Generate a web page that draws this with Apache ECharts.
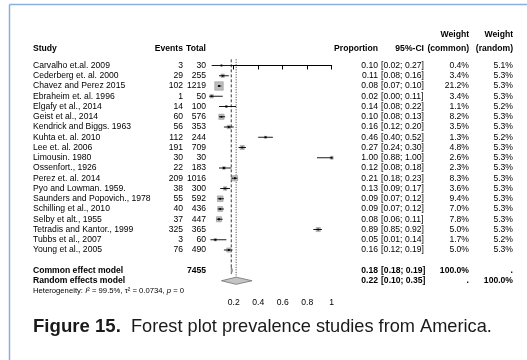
<!DOCTYPE html>
<html>
<head>
<meta charset="utf-8">
<script src="https://cdn.jsdelivr.net/npm/echarts@6/dist/echarts.min.js"></script>
<style>
  html, body { margin: 0; padding: 0; background: #ffffff; }
  #chart { width: 527px; height: 360px; }
</style>
</head>
<body>
<div id="chart"></div>
<script>
// Prevalence studies from America: per-study events, totals, proportions and weights
const studies = [
  'Carvalho et.al. 2009', 'Cederberg et. al. 2000', 'Chavez and Perez 2015',
  'Ebraheim et. al. 1996', 'Elgafy et al., 2014', 'Geist et al., 2014',
  'Kendrick and Biggs. 1963', 'Kuhta et. al. 2010', 'Lee et. al. 2006',
  'Limousin. 1980', 'Ossenfort., 1926', 'Perez et. al. 2014',
  'Pyo and Lowman. 1959.', 'Saunders and Popovich., 1978', 'Schilling et al., 2010',
  'Selby et alt., 1955', 'Tetradis and Kantor., 1999', 'Tubbs et al., 2007',
  'Young et al., 2005'
];
const events = [3, 29, 102, 1, 14, 60, 56, 112, 191, 30, 22, 209, 38, 55, 40, 37, 325, 3, 76];
const totals = [30, 255, 1219, 50, 100, 576, 353, 244, 709, 30, 183, 1016, 300, 592, 436, 447, 365, 60, 490];
const proportion = [0.10, 0.11, 0.08, 0.02, 0.14, 0.10, 0.16, 0.46, 0.27, 1.00, 0.12, 0.21, 0.13, 0.09, 0.09, 0.08, 0.89, 0.05, 0.16];
const ciLower = [0.02, 0.08, 0.07, 0.00, 0.08, 0.08, 0.12, 0.40, 0.24, 0.88, 0.08, 0.18, 0.09, 0.07, 0.07, 0.06, 0.85, 0.01, 0.12];
const ciUpper = [0.27, 0.16, 0.10, 0.11, 0.22, 0.13, 0.20, 0.52, 0.30, 1.00, 0.18, 0.23, 0.17, 0.12, 0.12, 0.11, 0.92, 0.14, 0.19];
const weightCommon = [0.4, 3.4, 21.2, 3.4, 1.1, 8.2, 3.5, 1.3, 4.8, 2.6, 2.3, 8.3, 3.6, 9.4, 7.0, 7.8, 5.0, 1.7, 5.0];
const weightRandom = [5.1, 5.3, 5.3, 5.3, 5.2, 5.3, 5.3, 5.2, 5.3, 5.3, 5.3, 5.3, 5.3, 5.3, 5.3, 5.3, 5.3, 5.2, 5.3];

// Pooled estimates
const modelNames = ['Common effect model', 'Random effects model'];
const modelEstimate = [0.18, 0.22];
const modelLower = [0.18, 0.10];
const modelUpper = [0.19, 0.35];
const modelWeightCommon = ['100.0%', '.'];
const modelWeightRandom = ['.', '100.0%'];
const totalParticipants = 7455;

const axisTicks = [0.2, 0.4, 0.6, 0.8, 1];

const FONT = '"Liberation Sans", Arial, Helvetica, sans-serif';
const FS = 8.6;
// column anchors (pixels)
const COL = { study: 33, events: 183, total: 206, prop: 378, ci: 381, ciRight: 424, wCommon: 469, wRandom: 513 };
const ROW_COMMON = studies.length + 1;
const ROW_RANDOM = studies.length + 2;
const ROW_HET = studies.length + 3;

function txt(text, x, y, align, bold, size) {
  return {
    type: 'text',
    style: {
      text: text, x: x, y: y, align: align, verticalAlign: 'middle',
      fontSize: size || FS, fontFamily: FONT, fontWeight: bold ? 'bold' : 'normal', fill: '#000'
    },
    silent: true
  };
}
function fmtCI(lo, hi) { return '[' + lo.toFixed(2) + '; ' + hi.toFixed(2) + ']'; }

const maxW = Math.max.apply(null, weightCommon);
const studyData = studies.map((s, i) => [i, proportion[i], ciLower[i], ciUpper[i], weightCommon[i], weightRandom[i], events[i], totals[i]]);
const modelData = modelNames.map((m, k) => [studies.length + 1 + k, modelEstimate[k], modelLower[k], modelUpper[k], k]);

const chart = echarts.init(document.getElementById('chart'), null, { renderer: 'canvas' });

chart.setOption({
  animation: false,
  backgroundColor: '#ffffff',
  title: {
    text: '{b|Figure 15.}  Forest plot prevalence studies from America.',
    left: 33, top: 317, padding: 0,
    textStyle: {
      fontFamily: FONT, fontSize: 18.2, fontWeight: 'normal', color: '#1a1a1a',
      rich: { b: { fontFamily: FONT, fontSize: 18.6, fontWeight: 'bold', color: '#1a1a1a' } }
    }
  },
  graphic: [
    { type: 'line', shape: { x1: 9.5, y1: 4.5, x2: 527, y2: 4.5 }, style: { stroke: '#8aafdc', lineWidth: 1.5 }, silent: true },
    { type: 'line', shape: { x1: 9.5, y1: 4.5, x2: 9.5, y2: 360 }, style: { stroke: '#8aafdc', lineWidth: 1.5 }, silent: true }
  ],
  grid: { left: 233.7, width: 98, top: 65.5, height: 10.25 * 21.5 },
  xAxis: {
    type: 'value', min: 0.2, max: 1, interval: 0.2,
    splitLine: { show: false },
    axisLine: { show: true, lineStyle: { color: '#000', width: 1 } },
    axisTick: { show: true, length: 4, lineStyle: { color: '#000' }, customValues: axisTicks },
    axisLabel: { color: '#000', fontSize: FS, fontFamily: FONT, margin: 12, customValues: axisTicks,
      formatter: v => String(+v.toFixed(2)) }
  },
  yAxis: { type: 'value', min: 0, max: 21.5, inverse: true, show: false },
  series: [
    {
      // header row, reference lines, heterogeneity note
      type: 'custom', clip: false, silent: true,
      data: [[0, 0]],
      renderItem: function (params, api) {
        const yRow = r => api.coord([0.2, r])[1];
        const xOf = v => api.coord([v, 0])[0];
        const h1 = yRow(-3), h2 = yRow(-1.65);
        const children = [
          txt('Weight', COL.wCommon, h1, 'right', true),
          txt('Weight', COL.wRandom, h1, 'right', true),
          txt('Study', COL.study, h2, 'left', true),
          txt('Events', COL.events, h2, 'right', true),
          txt('Total', COL.total, h2, 'right', true),
          txt('Proportion', COL.prop, h2, 'right', true),
          txt('95%-CI', COL.ciRight, h2, 'right', true),
          txt('(common)', COL.wCommon, h2, 'right', true),
          txt('(random)', COL.wRandom, h2, 'right', true),
          {
            type: 'line',
            shape: { x1: xOf(modelEstimate[0]), y1: yRow(-0.6), x2: xOf(modelEstimate[0]), y2: yRow(ROW_COMMON - 0.35) },
            style: { stroke: '#000', lineWidth: 0.8, lineDash: [3, 2] }
          },
          {
            type: 'line',
            shape: { x1: xOf(modelEstimate[1]), y1: yRow(-0.6), x2: xOf(modelEstimate[1]), y2: yRow(ROW_RANDOM - 0.35) },
            style: { stroke: '#000', lineWidth: 0.8, lineDash: [1, 1.5] }
          },
          {
            type: 'text',
            style: {
              text: '{n|Heterogeneity: }{i|I}{n|² = 99.5%, τ² = 0.0734, }{i|p}{n| = 0}',
              x: COL.study, y: yRow(ROW_HET), align: 'left', verticalAlign: 'middle',
              rich: {
                n: { fontSize: 7.7, fontFamily: FONT, fill: '#000' },
                i: { fontSize: 7.7, fontFamily: FONT, fontStyle: 'italic', fill: '#000' }
              }
            }
          }
        ];
        return { type: 'group', children: children };
      }
    },
    {
      // individual studies: CI line, weighted square, table columns
      type: 'custom', clip: false, silent: true,
      encode: { x: 1, y: 0 },
      data: studyData,
      renderItem: function (params, api) {
        const i = api.value(0);
        const est = api.coord([api.value(1), i]);
        const lo = api.coord([api.value(2), i]);
        const hi = api.coord([api.value(3), i]);
        const y = est[1];
        const side = 8.5 * Math.sqrt(api.value(4) / maxW);
        return {
          type: 'group',
          children: [
            { type: 'rect', shape: { x: est[0] - side / 2, y: y - side / 2, width: side, height: side },
              style: { fill: '#bdbdbd', stroke: '#9a9a9a', lineWidth: 0.6 } },
            { type: 'line', shape: { x1: lo[0], y1: y, x2: hi[0], y2: y }, style: { stroke: '#000', lineWidth: 0.9 } },
            { type: 'rect', shape: { x: est[0] - 0.9, y: y - 0.9, width: 1.8, height: 1.8 }, style: { fill: '#000' } },
            txt(studies[i], COL.study, y, 'left'),
            txt(String(api.value(6)), COL.events, y, 'right'),
            txt(String(api.value(7)), COL.total, y, 'right'),
            txt(api.value(1).toFixed(2), COL.prop, y, 'right'),
            txt(fmtCI(api.value(2), api.value(3)), COL.ci, y, 'left'),
            txt(api.value(4).toFixed(1) + '%', COL.wCommon, y, 'right'),
            txt(api.value(5).toFixed(1) + '%', COL.wRandom, y, 'right')
          ]
        };
      }
    },
    {
      // pooled estimates: diamonds and bold summary rows
      type: 'custom', clip: false, silent: true,
      encode: { x: 1, y: 0 },
      data: modelData,
      renderItem: function (params, api) {
        const r = api.value(0), k = api.value(4);
        const est = api.coord([api.value(1), r]);
        const lo = api.coord([api.value(2), r]);
        const hi = api.coord([api.value(3), r]);
        const y = est[1], h = 3.6;
        const children = [
          { type: 'polygon', shape: { points: [[lo[0], y], [est[0], y - h], [hi[0], y], [est[0], y + h]] },
            style: { fill: '#c4c4c4', stroke: '#707070', lineWidth: 0.8 } },
          txt(modelNames[k], COL.study, y, 'left', true),
          txt(api.value(1).toFixed(2), COL.prop, y, 'right', true),
          txt(fmtCI(api.value(2), api.value(3)), COL.ci, y, 'left', true),
          txt(modelWeightCommon[k], COL.wCommon, y, 'right', true),
          txt(modelWeightRandom[k], COL.wRandom, y, 'right', true)
        ];
        if (k === 0) children.push(txt(String(totalParticipants), COL.total, y, 'right', true));
        return { type: 'group', children: children };
      }
    }
  ]
});
</script>
</body>
</html>
